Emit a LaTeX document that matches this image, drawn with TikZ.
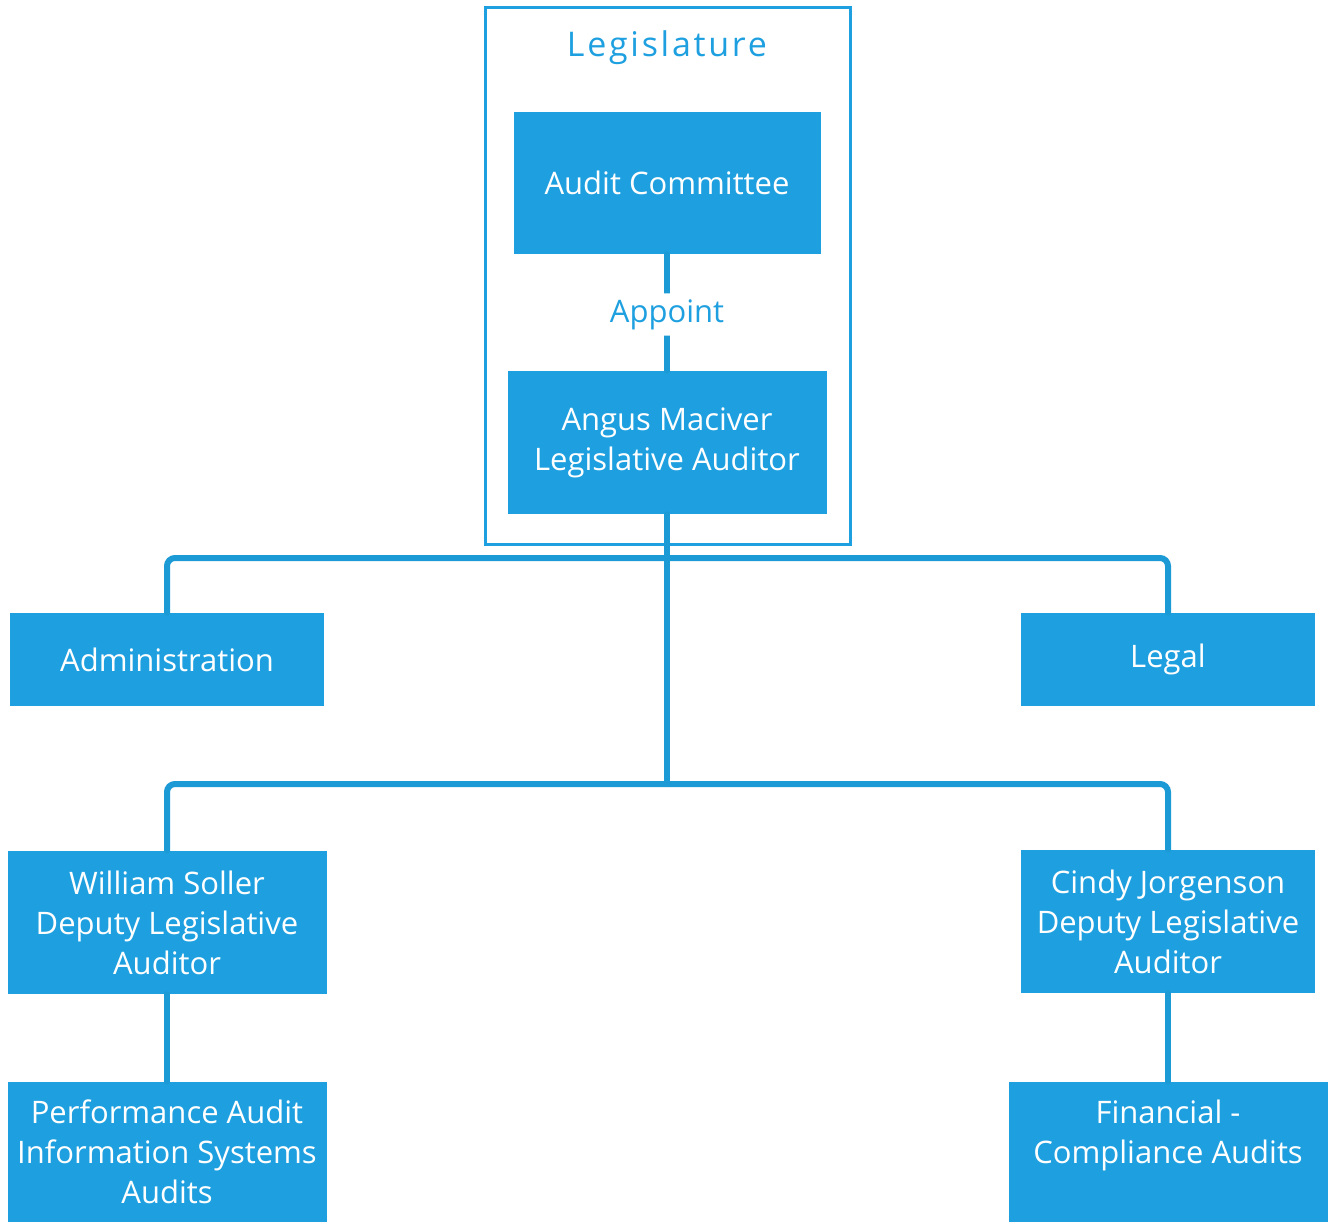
\documentclass[tikz,border=0pt]{standalone}
\usepackage{fontspec}
\setmainfont{Open Sans}
\definecolor{boxblue}{HTML}{1EA0E0}
\definecolor{lineblue}{HTML}{1C9AD6}
\begin{document}
\begin{tikzpicture}[x=1pt,y=-1pt,
  orgbox/.style={fill=boxblue,draw=none,inner sep=0pt,text=white,align=center,
    font=\fontsize{31}{40}\selectfont},
  link/.style={draw=lineblue,line width=6pt,line cap=round,rounded corners=8pt}]
\useasboundingbox (0,0) rectangle (1328,1222);
\node[draw=boxblue,line width=3pt,minimum width=365pt,minimum height=536pt,inner sep=0pt] (frame) at (667.5,276) {};
\node[text=boxblue,font=\fontsize{34}{40}\selectfont\addfontfeature{LetterSpace=8},anchor=base] (leg) at (667,57) {Legislature};
\node[orgbox,minimum width=307pt,minimum height=142pt] (audit) at (667,183) {Audit Committee};
\node[orgbox,minimum width=319pt,minimum height=143pt] (angus) at (667,442.5) {Angus Maciver\\Legislative Auditor};
\node[orgbox,minimum width=314pt,minimum height=93pt] (admin) at (167,659.5) {Administration};
\node[orgbox,minimum width=294pt,minimum height=93pt] (legal) at (1168,659.5) {Legal};
\node[orgbox,minimum width=319pt,minimum height=143pt] (william) at (167,922.5) {William Soller\\Deputy Legislative\\Auditor};
\node[orgbox,minimum width=294pt,minimum height=143pt] (cindy) at (1168,921.5) {Cindy Jorgenson\\Deputy Legislative\\Auditor};
\node[orgbox,minimum width=319pt,minimum height=140pt] (perf) at (167,1152) {Performance Audit\\Information Systems\\Audits};
\node[orgbox,minimum width=319pt,minimum height=140pt] (fin) at (1168,1152) {Financial -\\Compliance Audits\\\phantom{A}};
\coordinate (j1) at (667,558);
\coordinate (j2) at (667,784);
\draw[link] (audit.south) -- (angus.north) node[midway,fill=white,text=boxblue,inner sep=6pt,yshift=-2pt,font=\fontsize{31}{40}\selectfont] (app) {Appoint};
\draw[link] (angus.south) -- (j2);
\draw[link] (j1) -| (admin.north);
\draw[link] (j1) -| (legal.north);
\draw[link] (j2) -| (william.north);
\draw[link] (j2) -| (cindy.north);
\draw[link] (william.south) -- (perf.north);
\draw[link] (cindy.south) -- (fin.north);
\end{tikzpicture}
\end{document}
